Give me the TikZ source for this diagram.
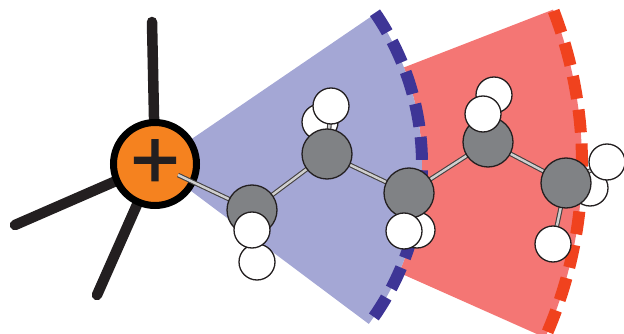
\documentclass[tikz,border=0pt]{standalone}
\usepackage{fontspec}
\setmainfont{Liberation Sans}
\newfontfamily\plusfont[FakeBold=1.5]{Liberation Sans}
\definecolor{sectorblue}{HTML}{A4A7D5}
\definecolor{dashblue}{HTML}{3E3596}
\definecolor{sectorred}{HTML}{F47674}
\definecolor{dashred}{HTML}{F0421E}
\definecolor{chargeorange}{HTML}{F5821F}
\definecolor{inkblack}{HTML}{231F20}
\definecolor{carbongray}{HTML}{808285}
\definecolor{bondgray}{HTML}{CFCFCF}
\tikzset{
  carbon/.style={circle,draw=inkblack,line width=1.3pt,fill=carbongray,minimum size=50pt,inner sep=0pt},
  hydrogen/.style={circle,draw=inkblack,line width=1.3pt,fill=white,minimum size=36pt,inner sep=0pt},
  charge/.style={circle,draw=black,line width=7pt,fill=chargeorange,minimum size=83pt,inner sep=0pt,text=inkblack},
  leg/.style={line width=10.5pt,inkblack,line cap=round},
  bondout/.style={line width=4.6pt,draw=inkblack!85},
  bondin/.style={line width=2.4pt,draw=bondgray},
  blueedge/.style={line width=12pt,dashblue,dash pattern=on 23pt off 10.4pt},
  rededge/.style={line width=12pt,dashred,dash pattern=on 23pt off 11pt},
}
\newcommand{\bondline}[2]{\draw[bondout] (#1) -- (#2);\draw[bondin] (#1) -- (#2);}
\begin{document}
\begin{tikzpicture}[x=1pt,y=-1pt]
\useasboundingbox (0,0) rectangle (624,334);
\coordinate (O) at (155,164);
% sectors
\fill[sectorred] (O) ++(-21.2:267) -- ++(-21.2:160) arc[start angle=-21.2,end angle=24,radius=427] -- ++(24:-160) arc[start angle=24,end angle=-21.2,radius=267] -- cycle;
\fill[sectorblue] (O) -- ++(-34.3:267) arc[start angle=-34.3,end angle=36.8,radius=267] -- cycle;
\draw[rededge] (O) ++(-21:427) arc[start angle=-21,end angle=23.3,radius=427];
\draw[blueedge] (O) ++(-34.5:267) arc[start angle=-34.5,end angle=36,radius=267];
% free ends
\coordinate (Cstart) at (178,175);
\coordinate (L1) at (152,22);
\coordinate (L2) at (15,225);
\coordinate (L3) at (97,295);
% legs and charge
\draw[leg] (L1) -- (O);
\draw[leg] (L2) -- (O);
\draw[leg] (L3) -- (O);
\node[charge] (Q) at (155,164) {\fontsize{84}{84}\plusfont +};
% hydrogens behind the carbons
\node[hydrogen] (H1b) at (257,262) {};
\node[hydrogen] (H2b) at (320,122) {};
\node[hydrogen] (H3b) at (417,230) {};
\node[hydrogen] (H4b) at (494,95) {};
\node[hydrogen] (H5b) at (590,188) {};
% carbon centres for bonds
\coordinate (c1) at (252,210);
\coordinate (c2) at (327,154);
\coordinate (c3) at (409,193);
\coordinate (c4) at (488,142);
\coordinate (c5) at (566,183);
\bondline{Cstart}{c1}
\bondline{c1}{c2}
\bondline{c2}{c3}
\bondline{c3}{c4}
\bondline{c4}{c5}
\coordinate (h2) at (331,106);
\coordinate (h5a) at (607,162);
\coordinate (h5c) at (553,244);
\bondline{c2}{h2}
\bondline{c5}{h5a}
\bondline{c5}{h5c}
\node[carbon] (C1) at (c1) {};
\node[carbon] (C2) at (c2) {};
\node[carbon] (C3) at (c3) {};
\node[carbon] (C4) at (c4) {};
\node[carbon] (C5) at (c5) {};
\node[hydrogen] (H1a) at (252,230) {};
\node[hydrogen] (H2a) at (h2) {};
\node[hydrogen] (H3a) at (404,231) {};
\node[hydrogen] (H4a) at (483,114) {};
\node[hydrogen] (H5a) at (h5a) {};
\node[hydrogen] (H5c) at (h5c) {};
\end{tikzpicture}
\end{document}
